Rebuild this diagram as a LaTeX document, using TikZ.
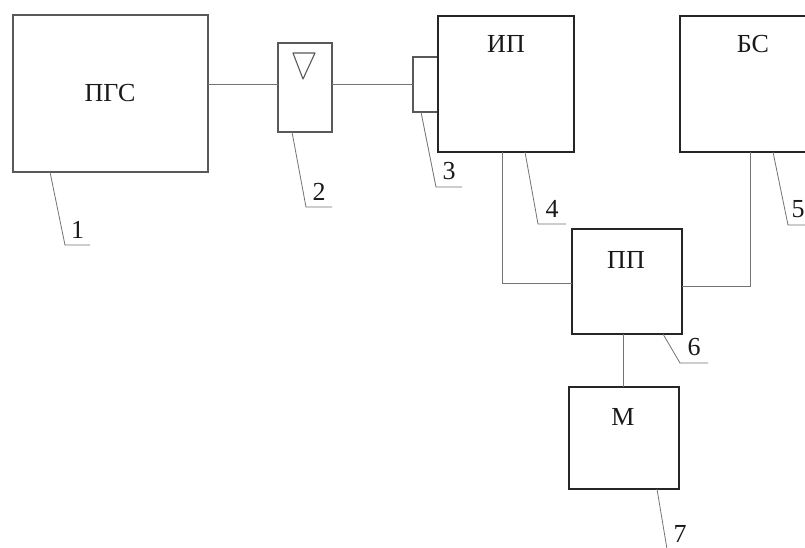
\documentclass[tikz,border=0pt]{standalone}
\usepackage{fontspec}
\setmainfont{Liberation Serif}
\begin{document}
\begin{tikzpicture}[x=1pt,y=-1pt,
  blk/.style={draw=black!85, line width=1.4pt, inner sep=0, outer sep=0, anchor=north west},
  blklt/.style={draw=black!65, line width=1.1pt, inner sep=0, outer sep=0, anchor=north west},
  lite/.style={draw=black!65, line width=1.1pt, line join=round},
  wire/.style={draw=black!55, line width=0.9pt},
  lead/.style={draw=black!55, line width=0.8pt},
  lbl/.style={font=\fontsize{26}{26}\selectfont, inner sep=0, text=black!90},
  num/.style={font=\fontsize{26}{26}\selectfont, inner sep=0, outer sep=0, anchor=south west, text=black!90}]
\useasboundingbox[fill=white] (0,0) rectangle (805,547);
\clip (0,0) rectangle (805,547);
% boxes
\node[blklt, minimum width=195pt, minimum height=157pt] (pgs) at (13,15) {};
\node[blklt, minimum width=54pt, minimum height=89pt] (b2) at (278,43) {};
\node[blklt, minimum width=25pt, minimum height=55pt] (c3) at (413,57) {};
\node[blk, minimum width=136pt, minimum height=136pt] (ip) at (438,16) {};
\node[blk, minimum width=135pt, minimum height=136pt] (bs) at (680,16) {};
\node[blk, minimum width=110pt, minimum height=105pt] (pp) at (572,229) {};
\node[blk, minimum width=110pt, minimum height=102pt] (m) at (569,387) {};
% texts
\node[lbl] (tpgs) at (110,93) {ПГС};
\node[lbl] (tip) at (506,44) {ИП};
\node[lbl] (tbs) at (753,44) {БС};
\node[lbl] (tpp) at (626,260) {ПП};
\node[lbl] (tm) at (623,417) {М};
% triangle in block 2
\draw[lite] ([shift={(15,10)}]b2.north west) -- ([shift={(37,10)}]b2.north west) -- ([shift={(25,36)}]b2.north west) -- cycle;
% connectors
\coordinate (y84) at (0,84);
\coordinate (y283) at (0,283);
\coordinate (y286) at (0,286);
\coordinate (x502) at (502,0);
\coordinate (x750) at (750,0);
\coordinate (x623) at (623,0);
\draw[wire] (pgs.east |- y84) -- (b2.west |- y84);
\draw[wire] (b2.east |- y84) -- (c3.west |- y84);
\draw[wire] (ip.south -| x502) |- (pp.west |- y283);
\draw[wire] (bs.south -| x750) |- (pp.east |- y286);
\draw[wire] (pp.south -| x623) -- (m.north -| x623);
% reference numbers
\node[num, minimum width=25pt] (n1) at (65,238) {1};
\node[num, minimum width=26pt] (n2) at (306,200) {2};
\node[num, minimum width=26pt] (n3) at (436,180) {3};
\node[num, minimum width=28pt] (n4) at (538,217) {4};
\node[num, minimum width=20pt] (n5) at (788,218) {5};
\node[num, minimum width=28pt] (n6) at (680,356) {6};
\node[num, minimum width=26pt] (n7) at (667,542) {7};
% leaders
\draw[lead] ([xshift=37pt]pgs.south west) -- ([yshift=-7pt]n1.south west) -- ([yshift=-7pt]n1.south east);
\draw[lead] ([xshift=14pt]b2.south west) -- ([yshift=-7pt]n2.south west) -- ([yshift=-7pt]n2.south east);
\draw[lead] ([xshift=8pt]c3.south west) -- ([yshift=-7pt]n3.south west) -- ([yshift=-7pt]n3.south east);
\draw[lead] ([xshift=87pt]ip.south west) -- ([yshift=-7pt]n4.south west) -- ([yshift=-7pt]n4.south east);
\draw[lead] ([xshift=93pt]bs.south west) -- ([yshift=-7pt]n5.south west) -- ([yshift=-7pt,xshift=5pt]n5.south east);
\draw[lead] ([xshift=91pt]pp.south west) -- ([yshift=-7pt]n6.south west) -- ([yshift=-7pt]n6.south east);
\draw[lead] ([xshift=88pt]m.south west) -- ([yshift=-7pt]n7.south west);
\end{tikzpicture}
\end{document}
